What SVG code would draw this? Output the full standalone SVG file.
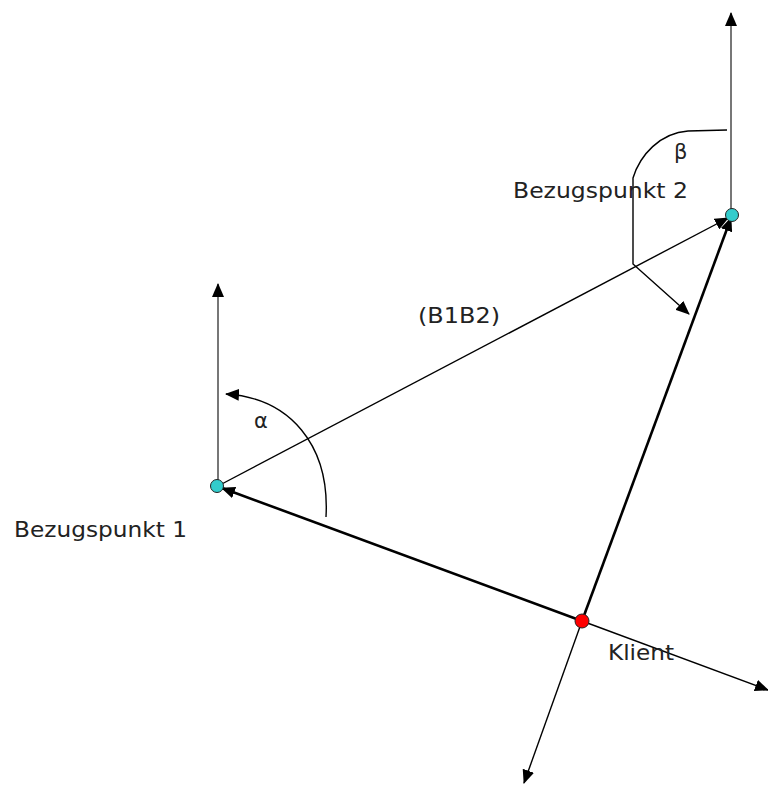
<svg xmlns="http://www.w3.org/2000/svg" width="768" height="785" viewBox="0 0 768 785">
<style>
.t{font-family:"DejaVu Sans","Verdana",sans-serif;font-size:21px;fill:#222}
.thin{stroke:#000;stroke-width:1.4;fill:none}
.thick{stroke:#000;stroke-width:2.6;fill:none}
.axis{stroke:#777;stroke-width:2;fill:none}
</style>
<defs>
<marker id="ah" viewBox="0 0 14 12" refX="13" refY="6" markerWidth="14" markerHeight="12" markerUnits="userSpaceOnUse" orient="auto">
<path d="M0,0 L14,6 L0,12 Z" fill="#000"/>
</marker>
</defs>
<rect width="768" height="785" fill="#fff"/>
<g id="connectors">
<line class="axis" x1="218" y1="486" x2="218" y2="284" marker-end="url(#ah)"/>
<line class="axis" x1="731" y1="215" x2="731" y2="13" marker-end="url(#ah)"/>
<line class="thin" x1="218" y1="486" x2="728" y2="218" marker-end="url(#ah)"/>
<line class="thick" x1="582" y1="621" x2="222" y2="488" marker-end="url(#ah)"/>
<line class="thick" x1="582" y1="621" x2="731" y2="218" marker-end="url(#ah)"/>
<line class="thin" x1="582" y1="621" x2="768" y2="690" marker-end="url(#ah)"/>
<line class="thin" x1="582" y1="621" x2="524" y2="783" marker-end="url(#ah)"/>
<path class="thin" d="M326,517 C330,445 290,398 226,394" marker-end="url(#ah)"/>
<path class="thin" d="M727,130 L688,131 C660,133 640,155 633,178 L633,264 L689,314" marker-end="url(#ah)"/>
</g>
<g id="b1">
<circle cx="217" cy="486" r="6.5" fill="#33CCCC" stroke="#222" stroke-width="1"/>
<text class="t" x="14" y="537" textLength="173" lengthAdjust="spacingAndGlyphs">Bezugspunkt 1</text>
</g>
<g id="b2">
<circle cx="732" cy="215" r="6.5" fill="#33CCCC" stroke="#222" stroke-width="1"/>
<text class="t" x="513" y="198" textLength="175" lengthAdjust="spacingAndGlyphs">Bezugspunkt 2</text>
</g>
<g id="klient">
<circle cx="582" cy="621" r="7" fill="#FF0000" stroke="#222" stroke-width="1"/>
<text class="t" x="608" y="660" textLength="66" lengthAdjust="spacingAndGlyphs">Klient</text>
</g>
<g id="labels">
<text class="t" x="418" y="323" textLength="82" lengthAdjust="spacingAndGlyphs">(B1B2)</text>
<text class="t" x="254" y="428">α</text>
<text class="t" x="674" y="159">β</text>
</g>
</svg>
